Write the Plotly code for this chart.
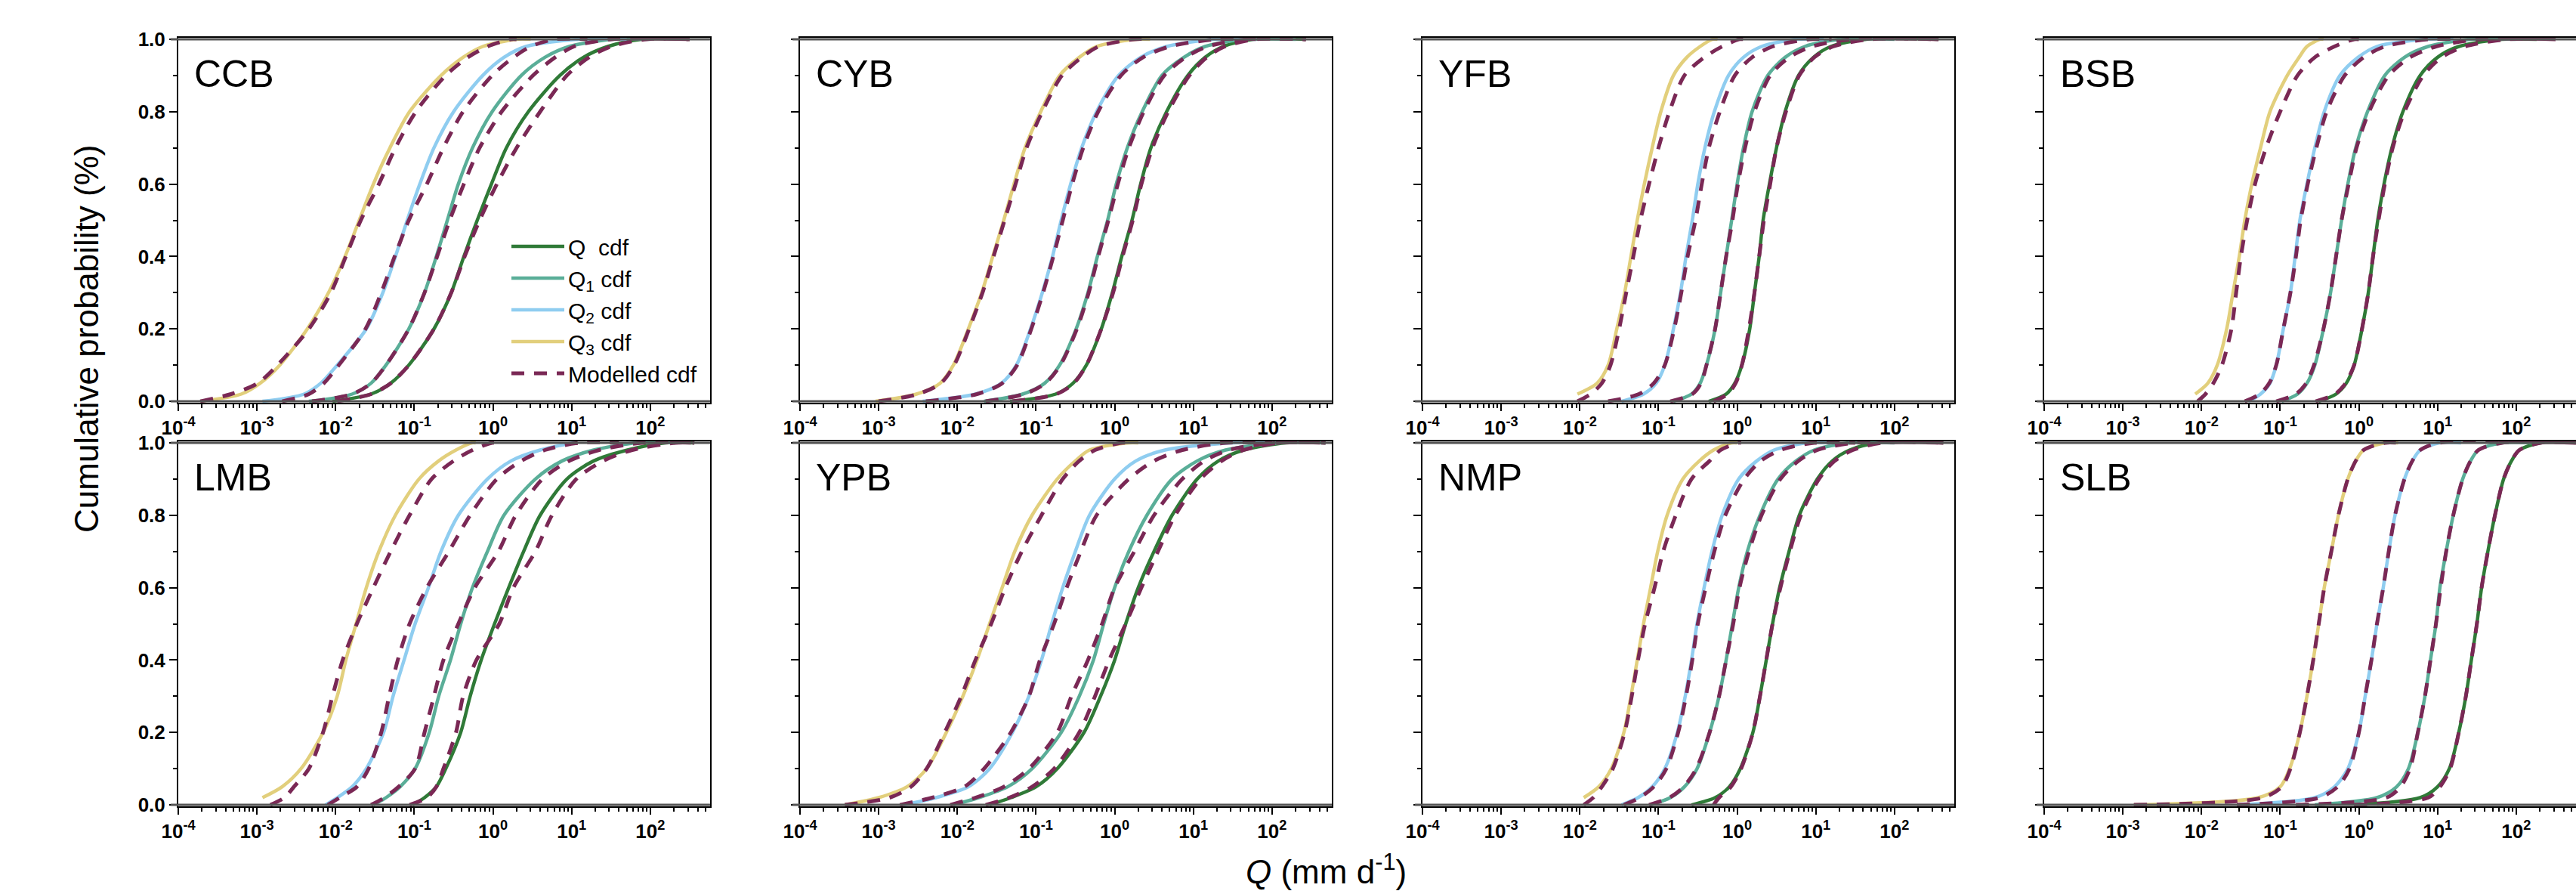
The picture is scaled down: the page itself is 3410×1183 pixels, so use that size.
import plotly.graph_objects as go
from plotly.subplots import make_subplots

# cumulative probability levels (last entry: end of the flat part of each line)
P = [0.0, 0.02, 0.05, 0.1, 0.2, 0.3, 0.4, 0.5, 0.6, 0.7, 0.8, 0.9, 0.95, 0.98, 1.0, 1.0]

PANELS = ["CCB", "CYB", "YFB", "BSB", "LMB", "YPB", "NMP", "SLB"]
SERIES = ["Q\u00a0\u00a0cdf", "Q<sub>1</sub> cdf", "Q<sub>2</sub> cdf", "Q<sub>3</sub> cdf"]

# log10 of Q (mm d-1) read at each probability level in P ; order: Q, Q1, Q2, Q3
CCB_obs = [
    [-2.04, -1.55, -1.30, -1.07, -0.75, -0.53, -0.37, -0.20, -0.02, 0.17, 0.45, 0.85, 1.15, 1.46, 1.89, 2.50],
    [-2.34, -1.79, -1.55, -1.36, -1.07, -0.87, -0.72, -0.58, -0.44, -0.26, -0.01, 0.36, 0.66, 0.97, 1.52, 2.00],
    [-2.93, -2.40, -2.19, -1.98, -1.61, -1.40, -1.24, -1.09, -0.93, -0.75, -0.50, -0.13, 0.14, 0.42, 1.09, 1.70],
    [-3.72, -3.20, -2.96, -2.71, -2.36, -2.09, -1.88, -1.70, -1.52, -1.31, -1.06, -0.66, -0.38, -0.13, 0.30, 0.48],
]
CCB_mod = [
    [-1.98, -1.55, -1.30, -1.07, -0.75, -0.53, -0.36, -0.17, 0.05, 0.30, 0.60, 0.94, 1.22, 1.50, 1.95, 2.50],
    [-2.30, -1.79, -1.55, -1.36, -1.07, -0.87, -0.71, -0.55, -0.37, -0.17, 0.11, 0.51, 0.79, 1.03, 1.50, 2.50],
    [-2.68, -2.34, -2.15, -1.96, -1.62, -1.42, -1.25, -1.07, -0.84, -0.63, -0.38, -0.01, 0.26, 0.48, 0.79, 1.20],
    [-3.72, -3.33, -2.99, -2.74, -2.34, -2.06, -1.87, -1.68, -1.45, -1.24, -0.98, -0.60, -0.32, -0.07, 0.23, 0.30],
]
CYB_obs = [
    [-1.33, -0.75, -0.53, -0.36, -0.17, -0.03, 0.09, 0.22, 0.33, 0.46, 0.66, 0.93, 1.15, 1.38, 1.76, 2.43],
    [-1.66, -1.17, -0.89, -0.70, -0.49, -0.34, -0.22, -0.09, 0.02, 0.16, 0.35, 0.60, 0.88, 1.15, 1.65, 2.30],
    [-2.44, -1.77, -1.44, -1.25, -1.07, -0.92, -0.79, -0.68, -0.56, -0.42, -0.23, 0.05, 0.33, 0.66, 1.27, 1.80],
    [-3.04, -2.52, -2.22, -2.05, -1.86, -1.69, -1.55, -1.41, -1.28, -1.14, -0.94, -0.70, -0.45, -0.23, 0.27, 0.45],
]
CYB_mod = [
    [-1.30, -0.74, -0.52, -0.36, -0.17, -0.02, 0.10, 0.23, 0.34, 0.48, 0.68, 0.95, 1.17, 1.40, 1.80, 2.43],
    [-1.64, -1.15, -0.88, -0.69, -0.48, -0.33, -0.21, -0.08, 0.04, 0.18, 0.37, 0.63, 0.90, 1.18, 1.70, 2.43],
    [-2.40, -1.75, -1.43, -1.24, -1.06, -0.91, -0.78, -0.66, -0.54, -0.40, -0.21, 0.08, 0.36, 0.70, 1.30, 1.90],
    [-3.00, -2.50, -2.21, -2.04, -1.85, -1.68, -1.54, -1.40, -1.26, -1.12, -0.92, -0.67, -0.42, -0.20, 0.25, 0.45],
]
YFB_obs = [
    [-0.36, -0.14, -0.03, 0.06, 0.16, 0.22, 0.28, 0.33, 0.41, 0.50, 0.61, 0.78, 0.97, 1.19, 1.64, 2.56],
    [-0.81, -0.58, -0.47, -0.39, -0.28, -0.21, -0.14, -0.07, 0.00, 0.08, 0.19, 0.39, 0.61, 0.86, 1.31, 2.00],
    [-1.47, -1.19, -1.03, -0.92, -0.81, -0.72, -0.65, -0.57, -0.50, -0.41, -0.29, -0.11, 0.08, 0.31, 0.75, 1.10],
    [None, -2.03, -1.78, -1.64, -1.53, -1.43, -1.35, -1.27, -1.18, -1.08, -0.97, -0.81, -0.64, -0.47, -0.31, -0.25],
]
YFB_mod = [
    [-0.30, -0.12, -0.02, 0.06, 0.15, 0.22, 0.28, 0.34, 0.42, 0.50, 0.62, 0.79, 0.98, 1.22, 1.70, 2.56],
    [-0.85, -0.57, -0.46, -0.39, -0.28, -0.21, -0.14, -0.06, 0.01, 0.10, 0.22, 0.42, 0.66, 0.95, 1.45, 2.56],
    [-1.64, -1.25, -1.06, -0.92, -0.80, -0.71, -0.63, -0.53, -0.45, -0.36, -0.22, -0.03, 0.19, 0.45, 0.92, 1.20],
    [-2.03, -1.86, -1.72, -1.61, -1.50, -1.41, -1.32, -1.23, -1.12, -1.00, -0.86, -0.67, -0.42, -0.19, 0.03, 0.10],
]
BSB_obs = [
    [-0.51, -0.29, -0.16, -0.06, 0.04, 0.12, 0.18, 0.24, 0.32, 0.42, 0.56, 0.78, 1.00, 1.27, 1.82, 2.26],
    [-0.98, -0.78, -0.66, -0.56, -0.45, -0.36, -0.29, -0.22, -0.14, -0.04, 0.11, 0.33, 0.58, 0.88, 1.42, 2.00],
    [-1.40, -1.25, -1.13, -1.05, -0.96, -0.87, -0.81, -0.75, -0.66, -0.56, -0.44, -0.24, -0.01, 0.23, 0.83, 1.20],
    [None, -2.08, -1.92, -1.80, -1.68, -1.60, -1.52, -1.45, -1.36, -1.25, -1.13, -0.91, -0.76, -0.66, -0.49, -0.45],
]
BSB_mod = [
    [-0.55, -0.30, -0.17, -0.06, 0.04, 0.12, 0.18, 0.25, 0.33, 0.43, 0.58, 0.82, 1.05, 1.35, 1.90, 2.50],
    [-1.05, -0.80, -0.67, -0.57, -0.45, -0.36, -0.29, -0.22, -0.13, -0.03, 0.13, 0.38, 0.65, 0.98, 1.55, 2.50],
    [-1.45, -1.26, -1.14, -1.05, -0.96, -0.87, -0.80, -0.74, -0.65, -0.54, -0.41, -0.18, 0.06, 0.33, 0.90, 1.30],
    [-2.05, -1.95, -1.85, -1.74, -1.62, -1.56, -1.50, -1.42, -1.32, -1.18, -1.00, -0.78, -0.56, -0.31, -0.06, 0.00],
]
LMB_obs = [
    [-1.02, -0.87, -0.72, -0.60, -0.41, -0.29, -0.15, 0.02, 0.20, 0.39, 0.60, 0.94, 1.28, 1.71, 2.20, 2.56],
    [-1.52, -1.36, -1.18, -0.99, -0.81, -0.69, -0.54, -0.41, -0.26, -0.07, 0.14, 0.54, 0.88, 1.28, 1.83, 2.32],
    [-2.13, -1.98, -1.79, -1.61, -1.39, -1.27, -1.13, -0.99, -0.82, -0.66, -0.44, -0.07, 0.23, 0.60, 1.03, 1.05],
    [None, -2.93, -2.68, -2.44, -2.16, -1.98, -1.87, -1.74, -1.61, -1.45, -1.24, -0.94, -0.69, -0.47, -0.26, -0.22],
]
LMB_mod = [
    [-1.06, -0.84, -0.72, -0.63, -0.47, -0.38, -0.21, 0.08, 0.26, 0.54, 0.75, 1.06, 1.40, 1.77, 2.32, 2.56],
    [-1.55, -1.38, -1.20, -0.99, -0.87, -0.75, -0.63, -0.44, -0.23, 0.07, 0.29, 0.63, 0.97, 1.35, 1.90, 2.56],
    [-2.10, -1.95, -1.73, -1.58, -1.42, -1.32, -1.21, -1.06, -0.84, -0.56, -0.29, 0.05, 0.36, 0.66, 1.10, 1.60],
    [-2.83, -2.65, -2.53, -2.34, -2.16, -2.04, -1.91, -1.73, -1.52, -1.30, -1.06, -0.78, -0.50, -0.26, -0.01, 0.05],
]
YPB_obs = [
    [-1.59, -1.32, -1.00, -0.73, -0.39, -0.18, 0.00, 0.14, 0.30, 0.50, 0.73, 1.05, 1.32, 1.64, 2.18, 2.68],
    [-2.05, -1.73, -1.36, -1.05, -0.68, -0.45, -0.27, -0.14, 0.00, 0.18, 0.41, 0.73, 1.05, 1.41, 2.09, 2.68],
    [-2.68, -2.27, -1.86, -1.59, -1.30, -1.09, -0.93, -0.80, -0.66, -0.50, -0.32, 0.00, 0.27, 0.64, 1.50, 2.00],
    [-3.43, -3.00, -2.64, -2.39, -2.14, -1.93, -1.75, -1.59, -1.43, -1.27, -1.05, -0.73, -0.50, -0.32, 0.18, 0.30],
]
YPB_mod = [
    [-1.64, -1.34, -1.05, -0.77, -0.45, -0.25, -0.07, 0.14, 0.34, 0.55, 0.77, 1.09, 1.36, 1.64, 2.09, 2.68],
    [-2.09, -1.77, -1.41, -1.09, -0.73, -0.55, -0.34, -0.16, 0.00, 0.25, 0.50, 0.86, 1.14, 1.45, 2.05, 2.68],
    [-2.73, -2.32, -1.91, -1.66, -1.32, -1.09, -0.95, -0.77, -0.61, -0.43, -0.23, 0.18, 0.50, 0.86, 1.41, 2.00],
    [-3.43, -2.86, -2.59, -2.39, -2.16, -1.95, -1.77, -1.57, -1.39, -1.18, -0.93, -0.66, -0.45, -0.25, 0.09, 0.20],
]
NMP_obs = [
    [-0.58, -0.28, -0.10, 0.04, 0.20, 0.29, 0.37, 0.45, 0.54, 0.66, 0.79, 1.02, 1.21, 1.43, 1.80, 2.62],
    [-1.10, -0.85, -0.67, -0.51, -0.35, -0.23, -0.14, -0.06, 0.02, 0.13, 0.29, 0.52, 0.75, 0.98, 1.43, 2.00],
    [-1.47, -1.26, -1.08, -0.92, -0.76, -0.66, -0.58, -0.51, -0.42, -0.32, -0.19, 0.02, 0.25, 0.47, 0.89, 1.20],
    [None, -1.95, -1.76, -1.60, -1.44, -1.35, -1.27, -1.19, -1.10, -1.01, -0.89, -0.69, -0.48, -0.30, -0.07, 0.00],
]
NMP_mod = [
    [-0.30, -0.23, -0.08, 0.05, 0.20, 0.29, 0.37, 0.45, 0.55, 0.67, 0.81, 1.04, 1.24, 1.47, 1.85, 2.62],
    [-1.12, -0.86, -0.68, -0.52, -0.35, -0.23, -0.14, -0.05, 0.03, 0.15, 0.31, 0.55, 0.78, 1.02, 1.50, 2.62],
    [-1.44, -1.24, -1.06, -0.90, -0.75, -0.65, -0.57, -0.50, -0.40, -0.29, -0.15, 0.09, 0.30, 0.55, 0.98, 1.50],
    [-1.95, -1.83, -1.72, -1.58, -1.43, -1.34, -1.26, -1.17, -1.05, -0.94, -0.78, -0.58, -0.35, -0.21, 0.02, 0.05],
]
SLB_obs = [
    [-0.06, 0.78, 1.00, 1.15, 1.27, 1.36, 1.43, 1.50, 1.56, 1.64, 1.73, 1.84, 1.94, 2.04, 2.31, 2.76],
    [-0.56, 0.23, 0.48, 0.63, 0.75, 0.84, 0.91, 0.98, 1.03, 1.11, 1.20, 1.32, 1.42, 1.52, 1.82, 2.20],
    [-1.55, -0.56, -0.31, -0.14, 0.00, 0.08, 0.16, 0.23, 0.31, 0.38, 0.46, 0.58, 0.68, 0.78, 1.02, 1.30],
    [-2.86, -1.28, -1.00, -0.88, -0.75, -0.66, -0.58, -0.51, -0.44, -0.35, -0.26, -0.14, -0.04, 0.06, 0.33, 0.50],
]
SLB_mod = [
    [-0.06, 0.88, 1.03, 1.16, 1.27, 1.36, 1.43, 1.50, 1.56, 1.64, 1.73, 1.84, 1.94, 2.04, 2.31, 2.76],
    [-0.80, 0.35, 0.53, 0.65, 0.75, 0.84, 0.91, 0.98, 1.04, 1.11, 1.20, 1.32, 1.42, 1.52, 1.82, 2.76],
    [-1.55, -0.50, -0.27, -0.12, 0.00, 0.08, 0.16, 0.23, 0.31, 0.38, 0.46, 0.58, 0.68, 0.78, 1.02, 2.76],
    [-2.86, -1.22, -0.98, -0.87, -0.75, -0.66, -0.58, -0.51, -0.44, -0.35, -0.26, -0.14, -0.04, 0.06, 0.33, 0.50],
]

OBS = [CCB_obs, CYB_obs, YFB_obs, BSB_obs, LMB_obs, YPB_obs, NMP_obs, SLB_obs]
MOD = [CCB_mod, CYB_mod, YFB_mod, BSB_mod, LMB_mod, YPB_mod, NMP_mod, SLB_mod]

X_TICK_EXP = [-4, -3, -2, -1, 0, 1, 2]
Y_TICKS = [0.0, 0.2, 0.4, 0.6, 0.8, 1.0]

COLORS = ["#2f7a37", "#5aae98", "#8fcdf0", "#e2cf7c"]
MOD_COLOR = "#7a2855"

W, H = 3410, 1183
COL_LEFT = [236, 1059, 1883, 2706]
PLOT_W = 704
ROW_TOP = [50, 584]
PLOT_H = 483
XMAX_LOG = 2.76

FONT = "Liberation Sans, Arial, sans-serif"

fig = make_subplots(rows=2, cols=4)


def q(vals):
    return [None if v is None else 10 ** v for v in vals]


for i, name in enumerate(PANELS):
    r, c = i // 4 + 1, i % 4 + 1
    first = i == 0
    for k in range(4):
        fig.add_trace(go.Scatter(
            x=q(OBS[i][k]), y=P, mode="lines", name=SERIES[k],
            line=dict(color=COLORS[k], width=4.5, shape="spline", smoothing=0.8),
            showlegend=first, legendgroup=SERIES[k], hoverinfo="skip"), row=r, col=c)
    for k in range(4):
        fig.add_trace(go.Scatter(
            x=q(MOD[i][k]), y=P, mode="lines", name="Modelled cdf",
            line=dict(color=MOD_COLOR, width=5, dash="17px,13px", shape="spline", smoothing=0.8),
            showlegend=first and k == 0, legendgroup="mod", hoverinfo="skip"), row=r, col=c)

minor_x = [m * 10 ** e for e in range(-4, 3) for m in range(2, 10) if m * 10 ** e <= 10 ** XMAX_LOG]

shapes = []
annotations = []
for i, name in enumerate(PANELS):
    r, c = i // 4, i % 4
    ax = "" if i == 0 else str(i + 1)
    x0 = COL_LEFT[c] / W
    x1 = min((COL_LEFT[c] + PLOT_W) / W, 1.0)
    y1 = 1 - ROW_TOP[r] / H
    y0 = 1 - (ROW_TOP[r] + PLOT_H) / H
    fig.layout["xaxis" + ax].update(
        type="log", range=[-4, XMAX_LOG], domain=[x0, x1], automargin=False,
        tickmode="array", tickvals=[10 ** e for e in X_TICK_EXP],
        ticktext=["10<sup>%d</sup>" % e for e in X_TICK_EXP],
        ticks="outside", ticklen=9, tickwidth=2, tickcolor="black",
        showline=True, linecolor="black", linewidth=2, mirror=True,
        showgrid=False, zeroline=False,
        tickfont=dict(family=FONT, size=26, color="black", weight="bold"),
        minor=dict(tickmode="array", tickvals=minor_x, ticks="outside", ticklen=5,
                   tickwidth=1.5, tickcolor="black", showgrid=False),
    )
    fig.layout["yaxis" + ax].update(
        range=[-0.004, 1.004], domain=[y0, y1], automargin=False,
        tickmode="array", tickvals=Y_TICKS, ticktext=["%.1f" % v for v in Y_TICKS],
        showticklabels=(c == 0),
        ticks="outside", ticklen=10, tickwidth=2, tickcolor="black",
        showline=True, linecolor="black", linewidth=2, mirror=True,
        showgrid=False, zeroline=False,
        tickfont=dict(family=FONT, size=26, color="black", weight="bold"),
        minor=dict(dtick=0.1, tick0=0, ticks="outside", ticklen=5, tickwidth=1.5,
                   tickcolor="black", showgrid=False),
    )
    for yv in (0.0, 1.0):
        shapes.append(dict(type="line", xref="x%s domain" % ax, yref="y%s" % ax,
                           x0=-0.014, x1=1.0, y0=yv, y1=yv,
                           line=dict(color="#555555", width=3), layer="above"))
    annotations.append(dict(text=name, xref="x%s domain" % ax, yref="y%s domain" % ax,
                            x=0.027, y=0.90, xanchor="left", yanchor="middle", showarrow=False,
                            font=dict(family=FONT, size=50, color="black")))

annotations.append(dict(text="Cumulative probability (%)", xref="paper", yref="paper",
                        x=115 / W, y=1 - 448 / H, textangle=-90, showarrow=False,
                        xanchor="center", yanchor="middle",
                        font=dict(family=FONT, size=44, color="black")))
annotations.append(dict(text="<i>Q</i> (mm d<sup>-1</sup>)", xref="paper", yref="paper",
                        x=1755 / W, y=1 - 1150 / H, showarrow=False,
                        xanchor="center", yanchor="middle",
                        font=dict(family=FONT, size=44, color="black")))

fig.update_layout(
    template="none",
    width=W, height=H, margin=dict(l=0, r=0, t=0, b=0, pad=0),
    paper_bgcolor="white", plot_bgcolor="white",
    font=dict(family=FONT, color="black"),
    shapes=shapes, annotations=annotations,
    legend=dict(x=672 / W, y=1 - 300 / H, xanchor="left", yanchor="top",
                font=dict(family=FONT, size=30, color="black"),
                bgcolor="rgba(0,0,0,0)", tracegroupgap=0, itemwidth=70),
)

fig.write_html(
    "out.html",
    config={"displayModeBar": False},
    post_script="document.body.style.margin='0px';document.body.style.overflow='hidden';",
)
